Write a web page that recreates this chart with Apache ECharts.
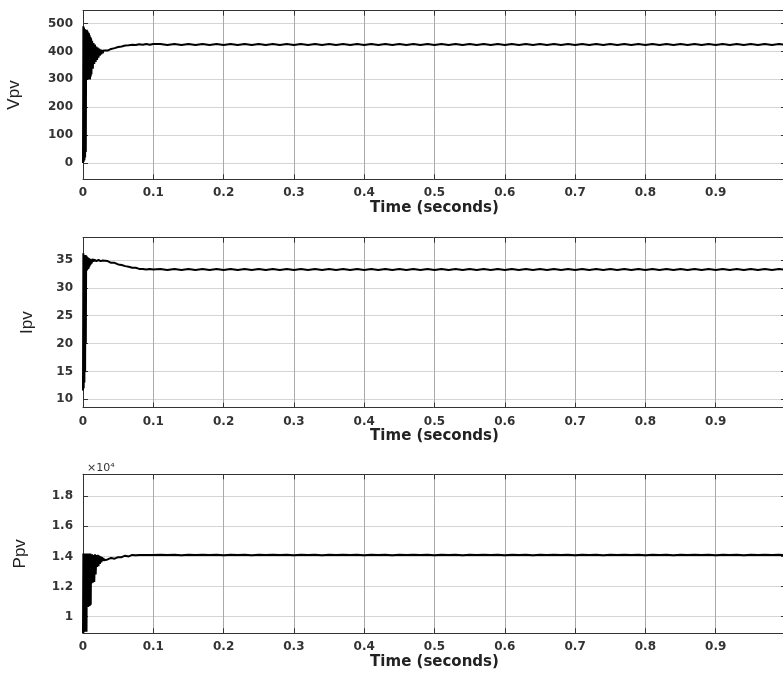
<!DOCTYPE html>
<html><head><meta charset="utf-8">
<script src="https://cdn.jsdelivr.net/npm/echarts@6/dist/echarts.min.js"></script>
<style>html,body{margin:0;padding:0;background:#fff;overflow:hidden}#c{width:783px;height:675px}</style>
</head><body><div id="c"></div>
<script>
// time (s)
const time = [
 0,0.0005,0.001,0.0015,0.002,0.0025,0.003,0.0035,0.004,
 0.0045,0.005,0.0055,0.006,0.0065,0.007,0.0075,0.008,0.0085,0.009,0.0095,0.01,0.0105,0.011,0.0115,0.012,
 0.013,0.014,0.015,0.016,0.017,0.018,0.019,0.02,0.021,0.022,0.023,0.024,0.025,0.026,0.027,0.028,0.029,0.03,
 0.035,0.04,0.045,0.05,0.055,0.06,0.065,0.07,0.075,0.08,0.085,0.09,0.095,0.1,
 0.11,0.12,0.13,0.14,0.15,0.16,0.17,0.18,0.19,0.2,
 0.21,0.22,0.23,0.24,0.25,0.26,0.27,0.28,0.29,0.3,
 0.31,0.32,0.33,0.34,0.35,0.36,0.37,0.38,0.39,0.4,
 0.41,0.42,0.43,0.44,0.45,0.46,0.47,0.48,0.49,0.5,
 0.51,0.52,0.53,0.54,0.55,0.56,0.57,0.58,0.59,0.6,
 0.61,0.62,0.63,0.64,0.65,0.66,0.67,0.68,0.69,0.7,
 0.71,0.72,0.73,0.74,0.75,0.76,0.77,0.78,0.79,0.8,
 0.81,0.82,0.83,0.84,0.85,0.86,0.87,0.88,0.89,0.9,
 0.91,0.92,0.93,0.94,0.95,0.96,0.97,0.98,0.99,1.0
];
// PV voltage (V)
const vpv = [
 0,490,5,486,10,480,20,478,40,
 475,300,478,298,472,302,468,300,465,305,458,300,452,310,447,318,
 438,338,430,355,425,362,418,370,414,378,410,385,407,390,405,394,403,398,
 403,409,412,416,418,421,422,424,423,426,424,427,424,427,
 427,423,427,423,427,423,427,423,427,423,
 427,423,427,423,427,423,427,423,427,423,
 427,423,427,423,427,423,427,423,427,423,
 427,423,427,423,427,423,427,423,427,423,
 427,423,427,423,427,423,427,423,427,423,
 427,423,427,423,427,423,427,423,427,423,
 427,423,427,423,427,423,427,423,427,423,
 427,423,427,423,427,423,427,423,427,423,
 427,423,427,423,427,423,427,423,427,423
];
// PV current (A)
const ipv = [
 11.6,36.2,12.0,35.8,13.0,35.5,15.0,35.9,20.0,
 35.8,33.0,35.6,33.2,35.5,33.4,35.4,33.5,35.3,33.8,35.2,34.0,35.2,34.2,35.1,34.4,
 34.6,35.2,34.7,35.1,34.8,35.1,34.8,35.0,34.9,35.0,34.8,35.0,34.8,34.9,34.7,34.9,34.7,34.8,
 34.8,34.5,34.5,34.2,34.1,33.9,33.8,33.6,33.6,33.4,33.4,33.3,33.4,33.3,
 33.4,33.2,33.4,33.2,33.4,33.2,33.4,33.2,33.4,33.2,
 33.4,33.2,33.4,33.2,33.4,33.2,33.4,33.2,33.4,33.2,
 33.4,33.2,33.4,33.2,33.4,33.2,33.4,33.2,33.4,33.2,
 33.4,33.2,33.4,33.2,33.4,33.2,33.4,33.2,33.4,33.2,
 33.4,33.2,33.4,33.2,33.4,33.2,33.4,33.2,33.4,33.2,
 33.4,33.2,33.4,33.2,33.4,33.2,33.4,33.2,33.4,33.2,
 33.4,33.2,33.4,33.2,33.4,33.2,33.4,33.2,33.4,33.2,
 33.4,33.2,33.4,33.2,33.4,33.2,33.4,33.2,33.4,33.2,
 33.4,33.2,33.4,33.2,33.4,33.2,33.4,33.2,33.4,33.2
];
// PV power (W)
const ppv = [
 8900,14200,8950,14150,9000,14200,9100,14150,9000,
 14200,9000,14150,10700,14200,10650,14150,10700,14200,10700,14150,10750,14200,10800,14150,12200,
 14150,12250,14100,12300,14150,12800,14100,13300,14100,13350,14050,13500,14000,13600,13950,13700,13900,13750,
 13800,13900,13850,13950,13950,14050,14000,14100,14080,14100,14100,14100,14100,14100,
 14120,14090,14110,14085,14120,14095,14110,14090,14115,14085,
 14120,14090,14110,14085,14120,14095,14110,14090,14115,14085,
 14120,14090,14110,14085,14120,14095,14110,14090,14115,14085,
 14120,14090,14110,14085,14120,14095,14110,14090,14115,14085,
 14120,14090,14110,14085,14120,14095,14110,14090,14115,14085,
 14120,14090,14110,14085,14120,14095,14110,14090,14115,14085,
 14120,14090,14110,14085,14120,14095,14110,14090,14115,14085,
 14120,14090,14110,14085,14120,14095,14110,14090,14115,14085,
 14120,14090,14110,14085,14120,14095,14110,14090,14115,14085
];
// tick values
const vTicks = [0,100,200,300,400,500];
const iTicks = [10,15,20,25,30,35];
const pTicks = [10000,12000,14000,16000,18000];
const xLabel = 'Time (seconds)';
const yNames = ['Vpv','Ipv','Ppv'];
const pScaleText = '×10⁴';

const grids = [
  {left:83, top:10.7, width:703, height:168.6},
  {left:83, top:237.7, width:703, height:170},
  {left:83, top:474.3, width:703, height:159}
];
const yCfg = [
  {min:-58, max:546, ticks:vTicks, gap:60, fmt:v=>String(v)},
  {min:8.5, max:39, ticks:iTicks, gap:47, fmt:v=>String(v)},
  {min:8900, max:19450, ticks:pTicks, gap:54, fmt:v=>String(+(v/10000).toFixed(1))}
];
const axisColor = '#333';
const tickFont = {color:'#333', fontFamily:'DejaVu Sans', fontWeight:'bold', fontSize:12};

const xAxes = [], yAxes = [];
grids.forEach((g,i)=>{
  xAxes.push({
    type:'value', gridIndex:i, min:0, max:1, interval:0.1, position:'bottom',
    axisLine:{show:true, onZero:false, lineStyle:{color:axisColor, width:1}},
    axisTick:{show:true, inside:true, length:5, lineStyle:{color:axisColor}},
    axisLabel:Object.assign({margin:8, formatter:v=>v===0?'0':(v===1?'1':(+v).toFixed(1))}, tickFont),
    splitLine:{show:true, lineStyle:{color:'#aaa', width:1}},
    name:xLabel, nameLocation:'middle', nameGap:20,
    nameTextStyle:{color:'#222', fontFamily:'DejaVu Sans', fontWeight:'bold', fontSize:15}
  });
  yAxes.push({
    type:'value', gridIndex:i, min:yCfg[i].min, max:yCfg[i].max, position:'left',
    axisLine:{show:true, onZero:false, lineStyle:{color:axisColor, width:1}},
    axisTick:{show:true, inside:true, length:5, customValues:yCfg[i].ticks, lineStyle:{color:axisColor}},
    axisLabel:Object.assign({margin:10, customValues:yCfg[i].ticks, formatter:yCfg[i].fmt}, tickFont),
    splitLine:{show:true, lineStyle:{color:'#d4d4d4', width:1}},
    name:yNames[i], nameLocation:'middle', nameGap:yCfg[i].gap, nameRotate:90,
    nameTextStyle:{color:'#222', fontFamily:'Liberation Sans', fontSize:17}
  });
});
grids.forEach((g,i)=>{
  xAxes.push({
    type:'value', gridIndex:i, min:0, max:1, interval:0.1, position:'top',
    axisLine:{show:true, onZero:false, lineStyle:{color:axisColor, width:1}},
    axisTick:{show:true, inside:true, length:5, lineStyle:{color:axisColor}},
    axisLabel:{show:false}, splitLine:{show:false}
  });
  yAxes.push({
    type:'value', gridIndex:i, min:yCfg[i].min, max:yCfg[i].max, position:'right',
    axisLine:{show:true, onZero:false, lineStyle:{color:axisColor, width:1}},
    axisTick:{show:true, inside:true, length:5, customValues:yCfg[i].ticks, lineStyle:{color:axisColor}},
    axisLabel:{show:false}, splitLine:{show:false}
  });
});

const mk = arr => time.map((t,k)=>[t, arr[k]]);
const series = [vpv, ipv, ppv].map((arr,i)=>({
  type:'line', xAxisIndex:i, yAxisIndex:i, data:mk(arr), showSymbol:false, symbol:'none',
  lineStyle:{color:'#000', width:2}, itemStyle:{color:'#000'}, animation:false, silent:true
}));

const chart = echarts.init(document.getElementById('c'), null, {renderer:'canvas'});
chart.setOption({
  animation:false,
  backgroundColor:'#fff',
  grid:grids.map(g=>Object.assign({containLabel:false, outerBoundsMode:'none'}, g)),
  xAxis:xAxes, yAxis:yAxes, series:series,
  graphic:[{type:'text', left:87, top:463, style:{text:pScaleText, fill:'#333', font:'11px "DejaVu Sans"'}}]
});
</script></body></html>
